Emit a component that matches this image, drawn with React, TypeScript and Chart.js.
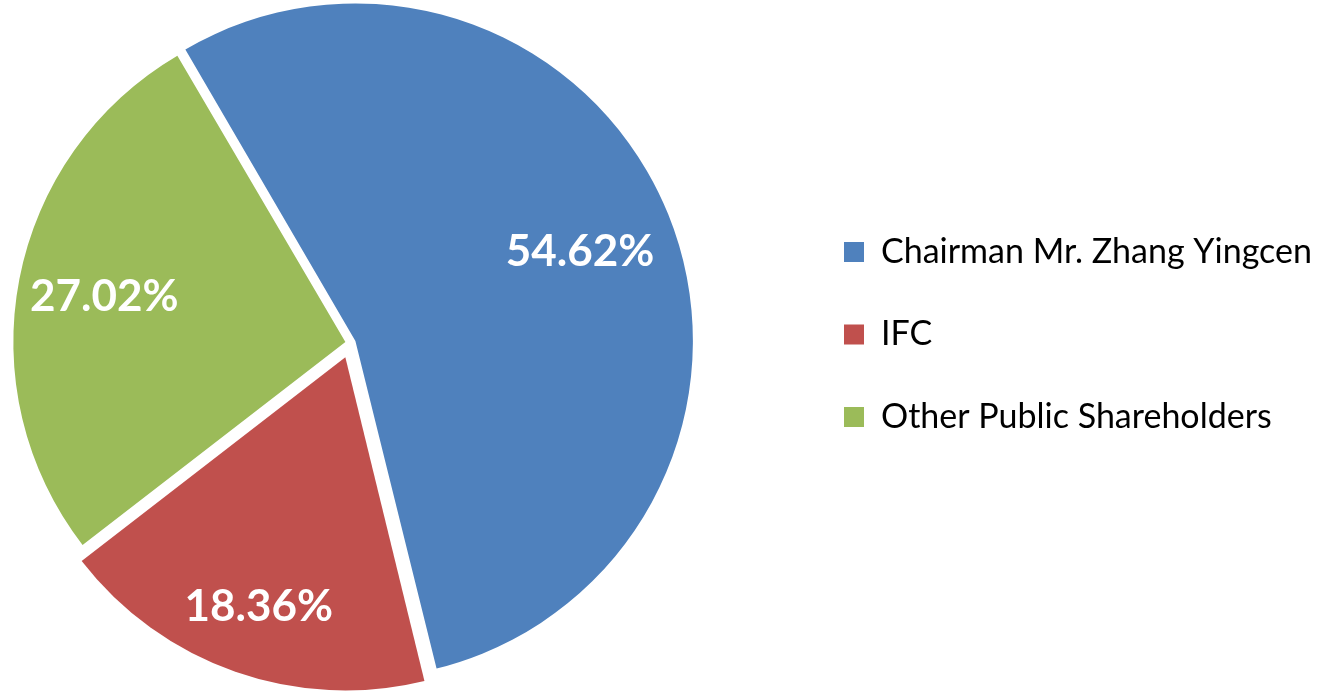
import React, { useEffect, useRef } from 'react';
import { Chart, registerables } from 'chart.js';

Chart.register(...registerables);

const categories = ['Chairman Mr. Zhang Yingcen', 'IFC', 'Other Public Shareholders'];
const shares = [54.62, 18.36, 27.02];
const valueLabels = ['54.62%', '18.36%', '27.02%'];
const colors = ['#4F81BD', '#C0504D', '#9BBB59'];

// explosion styling per slice (Chart.js moves an arc by offset / 4)
const SLICE_OFFSETS = [22, 60, 20];
const LABEL_RADIUS = [0.73, 0.79, 0.74];
const LEGEND_FONT = 34;
const LEGEND_PAD = 48.5;
const SHIFT_X = 90; // canvas extends this far past the left page edge
const SHIFT_Y = 19; // and this far above the top page edge
const CANVAS_W = 1317 + SHIFT_X;
const CANVAS_H = 724;

const labelPlugin = {
  id: 'sliceLabels',
  afterDatasetsDraw(chart: any) {
    const ctx = chart.ctx;
    const meta = chart.getDatasetMeta(0);
    ctx.save();
    ctx.font = 'bold 44px Lato';
    ctx.fillStyle = '#ffffff';
    ctx.textAlign = 'center';
    ctx.textBaseline = 'alphabetic';
    meta.data.forEach((arc: any, i: number) => {
      const { x, y, startAngle, endAngle, outerRadius } = arc.getProps(
        ['x', 'y', 'startAngle', 'endAngle', 'outerRadius'],
        true
      );
      const mid = (startAngle + endAngle) / 2;
      const d = outerRadius * LABEL_RADIUS[i] + SLICE_OFFSETS[i] / 4;
      const text = valueLabels[i];
      const m = ctx.measureText(text);
      const asc = m.actualBoundingBoxAscent;
      ctx.fillText(text, x + Math.cos(mid) * d, y + Math.sin(mid) * d + asc / 2);
    });
    ctx.restore();
  },
};

const legendShift = {
  id: 'legendShift',
  afterLayout(chart: any) {
    const lg = chart.legend;
    if (!lg || !lg.columnSizes || !lg.columnSizes.length) return;
    const pad = lg.options.labels.padding;
    const dx = 844 + SHIFT_X - (lg.left + pad);
    lg.left += dx;
    lg.right += dx;
    const curY = (lg.top + pad + lg.bottom - lg.columnSizes[0].height) / 2;
    const wantY = 252 + SHIFT_Y - LEGEND_FONT / 2;
    const dy = wantY - curY;
    lg.top += dy;
    lg.bottom += dy;
  },
};

export default function App() {
  const ref = useRef<HTMLCanvasElement>(null);
  useEffect(() => {
    document.body.style.margin = '0';
    const chart = new Chart(ref.current as HTMLCanvasElement, {
      type: 'pie',
      data: {
        labels: categories,
        datasets: [
          {
            data: shares,
            backgroundColor: colors,
            borderWidth: 0,
            offset: SLICE_OFFSETS,
            hoverOffset: 0,
          },
        ],
      },
      options: {
        responsive: false,
        animation: false,
        rotation: -30.4,
        layout: { padding: 0 },
        plugins: {
          tooltip: { enabled: false },
          legend: {
            position: 'right',
            labels: {
              boxWidth: 20,
              boxHeight: 20,
              padding: LEGEND_PAD,
              color: '#000000',
              font: { family: 'Lato', size: LEGEND_FONT },
            },
          },
        },
      },
      plugins: [labelPlugin, legendShift],
    } as any);
    return () => chart.destroy();
  }, []);
  return (
    <div style={{ position: 'relative', width: 1317, height: 691, overflow: 'hidden' }}>
      <canvas
        ref={ref}
        width={CANVAS_W}
        height={CANVAS_H}
        style={{ display: 'block', position: 'absolute', left: -SHIFT_X, top: -SHIFT_Y }}
      />
    </div>
  );
}
